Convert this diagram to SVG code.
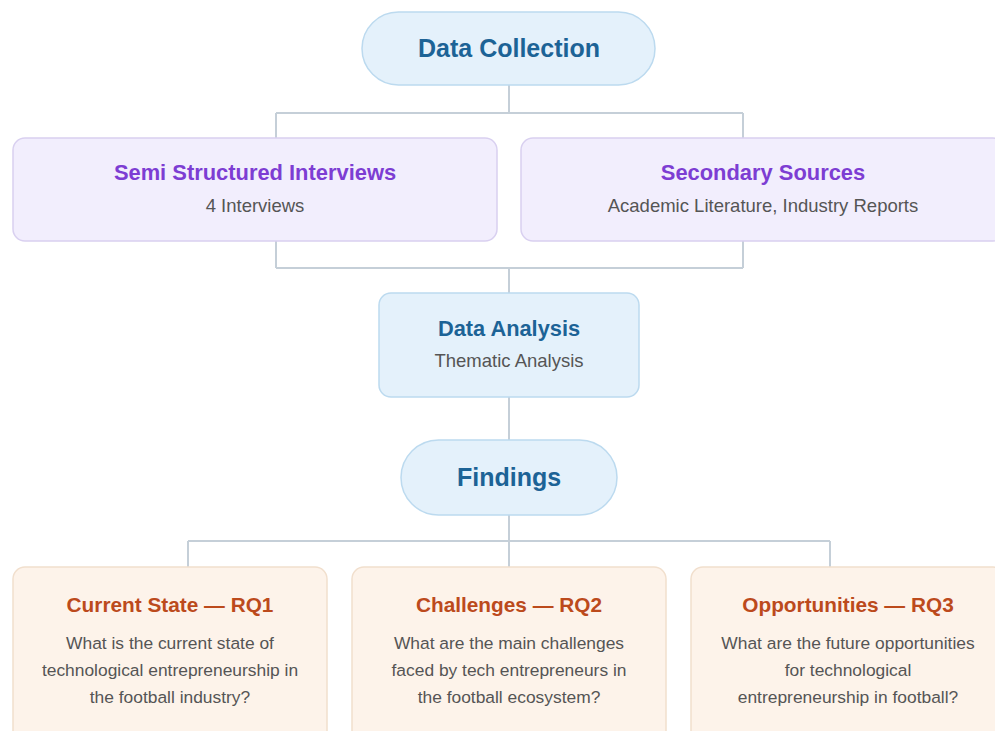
<svg xmlns="http://www.w3.org/2000/svg" width="995" height="731" viewBox="0 0 995 731">
  <style>
    .bg { fill: #ffffff; }
    .link { fill: none; stroke: #c5cfd8; stroke-width: 2; }
    .pill { fill: #e4f1fb; stroke: #bcdaef; stroke-width: 1.5; }
    .src { fill: #f2eefd; stroke: #d9d0f0; stroke-width: 1.5; }
    .ana { fill: #e4f1fb; stroke: #bcdaef; stroke-width: 1.5; }
    .rq { fill: #fdf3ea; stroke: #f1dfcd; stroke-width: 1.5; }
    text { font-family: "Liberation Sans", Arial, sans-serif; text-anchor: middle; }
    .h-blue { fill: #1c6396; font-weight: bold; }
    .h-purple { fill: #7d3dd3; font-weight: bold; font-size: 21.9px; }
    .h-orange { fill: #bc4a1c; font-weight: bold; font-size: 20.8px; }
    .sub { fill: #555555; font-size: 18.5px; }
    .body { fill: #555555; font-size: 17.4px; }
  </style>
  <rect class="bg" x="0" y="0" width="995" height="731"/>

  <g id="connectors">
    <path class="link" d="M509 85 V113 M276 113 H743 M276 113 V138 M743 113 V138"/>
    <path class="link" d="M276 241 V268 M743 241 V268 M276 268 H743 M509 268 V293"/>
    <path class="link" d="M509 397 V440"/>
    <path class="link" d="M509 515 V541 M188 541 H830 M188 541 V567 M509 541 V567 M830 541 V567"/>
  </g>

  <g id="data-collection">
    <rect class="pill" x="362" y="12" width="293" height="73" rx="36.5"/>
    <text class="h-blue" x="509" y="57" font-size="25">Data Collection</text>
  </g>

  <g id="semi-structured-interviews">
    <rect class="src" x="13" y="138" width="484" height="103" rx="12"/>
    <text class="h-purple" x="255" y="180">Semi Structured Interviews</text>
    <text class="sub" x="255" y="212">4 Interviews</text>
  </g>

  <g id="secondary-sources">
    <rect class="src" x="521" y="138" width="484" height="103" rx="12"/>
    <text class="h-purple" x="763" y="180">Secondary Sources</text>
    <text class="sub" x="763" y="212">Academic Literature, Industry Reports</text>
  </g>

  <g id="data-analysis">
    <rect class="ana" x="379" y="293" width="260" height="104" rx="12"/>
    <text class="h-blue" x="509" y="336" font-size="21.8">Data Analysis</text>
    <text class="sub" x="509" y="367">Thematic Analysis</text>
  </g>

  <g id="findings">
    <rect class="pill" x="401" y="440" width="216" height="75" rx="37.5"/>
    <text class="h-blue" x="509" y="486" font-size="25">Findings</text>
  </g>

  <g id="rq1-current-state">
    <rect class="rq" x="13" y="567" width="314" height="180" rx="12"/>
    <text class="h-orange" x="170" y="612">Current State — RQ1</text>
    <text class="body" x="170" y="649">What is the current state of</text>
    <text class="body" x="170" y="676">technological entrepreneurship in</text>
    <text class="body" x="170" y="703">the football industry?</text>
  </g>

  <g id="rq2-challenges">
    <rect class="rq" x="352" y="567" width="314" height="180" rx="12"/>
    <text class="h-orange" x="509" y="612">Challenges — RQ2</text>
    <text class="body" x="509" y="649">What are the main challenges</text>
    <text class="body" x="509" y="676">faced by tech entrepreneurs in</text>
    <text class="body" x="509" y="703">the football ecosystem?</text>
  </g>

  <g id="rq3-opportunities">
    <rect class="rq" x="691" y="567" width="314" height="180" rx="12"/>
    <text class="h-orange" x="848" y="612">Opportunities — RQ3</text>
    <text class="body" x="848" y="649">What are the future opportunities</text>
    <text class="body" x="848" y="676">for technological</text>
    <text class="body" x="848" y="703">entrepreneurship in football?</text>
  </g>
</svg>
